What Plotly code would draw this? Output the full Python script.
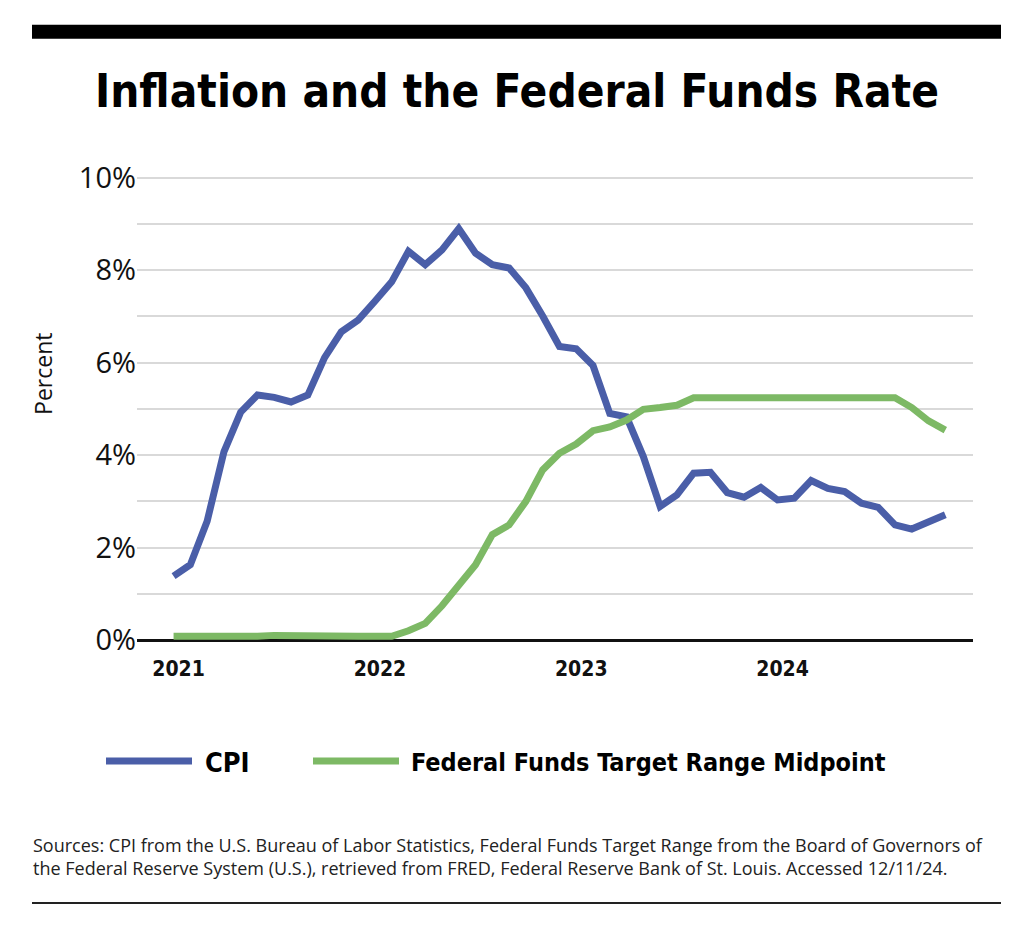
import plotly.graph_objects as go
import pandas as pd

# ---- data ----
months = pd.date_range("2021-01-01", "2024-11-01", freq="MS").strftime("%Y-%m").tolist()

cpi = [1.38, 1.63, 2.57, 4.07, 4.93, 5.30, 5.25, 5.15, 5.30, 6.11, 6.67, 6.92,
       7.33, 7.75, 8.41, 8.12, 8.44, 8.90, 8.37, 8.12, 8.05, 7.62, 7.01, 6.35,
       6.30, 5.94, 4.90, 4.83, 3.97, 2.89, 3.14, 3.61, 3.63, 3.19, 3.09, 3.30,
       3.03, 3.07, 3.45, 3.28, 3.21, 2.96, 2.87, 2.49, 2.40, 2.54, 2.71]

fed_funds = [0.08, 0.08, 0.07, 0.07, 0.06, 0.08, 0.10, 0.09, 0.08, 0.08, 0.08, 0.08,
             0.08, 0.08, 0.20, 0.36, 0.74, 1.17, 1.63, 2.28, 2.49, 3.00, 3.68, 4.04,
             4.24, 4.53, 4.61, 4.76, 4.99, 5.03, 5.08, 5.24, 5.24, 5.24, 5.24, 5.24,
             5.24, 5.24, 5.24, 5.24, 5.24, 5.24, 5.24, 5.24, 5.03, 4.74, 4.54]

year_labels = ["2021", "2022", "2023", "2024"]
y_ticks = list(range(0, 11))
y_ticktext = [f"{v}%" if v % 2 == 0 else "" for v in y_ticks]

BLUE = "#4a5ea8"
GREEN = "#7db965"
NARROW = "DejaVu Sans Condensed, Liberation Sans Narrow, sans-serif"
REG = "Open Sans, Liberation Sans, sans-serif"

# page body has an 8px margin; figure sized to fit the 1024x935 window
OFF = 8
W, H = 1024 - 2 * OFF, 935 - OFF
YMAX = 10.04  # a hair above 10% so the top gridline is drawn
# plot area in reference-window pixels (0% at 640, 10% at 178)
RL, RR, RB = 137, 973, 640
RT = RB - (RB - 178) * YMAX / 10
L, R, T, B = RL - OFF, RR - OFF, RT - OFF, RB - OFF


def px(x):
    return (x - RL) / (RR - RL)


def py(y):
    return (RB - y) / (RB - RT)


idx = list(range(len(months)))

fig = go.Figure()
fig.add_trace(go.Scatter(x=idx, y=cpi, mode="lines", name="CPI",
                         line=dict(color=BLUE, width=7), customdata=months,
                         hovertemplate="%{customdata}: %{y:.1f}%<extra>CPI</extra>"))
fig.add_trace(go.Scatter(x=idx, y=fed_funds, mode="lines",
                         name="Federal Funds Target Range Midpoint",
                         line=dict(color=GREEN, width=7), customdata=months,
                         hovertemplate="%{customdata}: %{y:.2f}%<extra>Fed Funds</extra>"))

year_pos = [months.index(f"{y}-01") + 0.3 for y in year_labels]

fig.update_layout(
    width=W, height=H,
    margin=dict(l=L, r=W - R, t=T, b=H - B, pad=0),
    paper_bgcolor="white", plot_bgcolor="white",
    showlegend=False,
    xaxis=dict(range=[-2.18, 47.65], showgrid=False, zeroline=False,
               tickvals=year_pos, ticktext=year_labels,
               ticks="outside", ticklen=10, tickcolor="rgba(0,0,0,0)",
               tickfont=dict(family=NARROW, size=21, color="#111", weight="bold"),
               showline=False, fixedrange=True),
    yaxis=dict(range=[0, YMAX], tickvals=y_ticks, ticktext=y_ticktext,
               showgrid=True, gridcolor="#d9d9d9", gridwidth=2,
               zeroline=True, zerolinecolor="#111", zerolinewidth=2.5,
               tickfont=dict(family=REG, size=29, color="#111"),
               ticks="", showline=False, fixedrange=True),
)

shapes = [
    # top black bar
    dict(type="rect", xref="paper", yref="paper", x0=px(32), x1=px(1001),
         y0=py(39), y1=py(25), fillcolor="black", line=dict(width=0), layer="above"),
    # bottom rule
    dict(type="line", xref="paper", yref="paper", x0=px(32), x1=px(1001),
         y0=py(903), y1=py(903), line=dict(color="#222", width=2)),
    # legend swatches
    dict(type="line", xref="paper", yref="paper", x0=px(106), x1=px(192),
         y0=py(761), y1=py(761), line=dict(color=BLUE, width=7)),
    dict(type="line", xref="paper", yref="paper", x0=px(313), x1=px(399),
         y0=py(761), y1=py(761), line=dict(color=GREEN, width=7)),
]
fig.update_layout(shapes=shapes)

annotations = [
    dict(text="Inflation and the Federal Funds Rate", x=px(517), y=py(92),
         xref="paper", yref="paper", showarrow=False, xanchor="center", yanchor="middle",
         font=dict(family=NARROW, size=45.5, color="black", weight="bold")),
    dict(text="Percent", x=px(43), y=py(374), xref="paper", yref="paper",
         showarrow=False, textangle=-90, xanchor="center", yanchor="middle",
         font=dict(family=REG, size=23, color="#111")),
    dict(text="CPI", x=px(203), y=py(762), xref="paper", yref="paper",
         showarrow=False, xanchor="left", yanchor="middle",
         font=dict(family=NARROW, size=27, color="black", weight="bold")),
    dict(text="Federal Funds Target Range Midpoint", x=px(409), y=py(762),
         xref="paper", yref="paper", showarrow=False, xanchor="left", yanchor="middle",
         font=dict(family=NARROW, size=25, color="black", weight="bold")),
    dict(text="Sources: CPI from the U.S. Bureau of Labor Statistics, Federal Funds Target Range from the Board of Governors of<br>"
              "the Federal Reserve System (U.S.), retrieved from FRED, Federal Reserve Bank of St. Louis. Accessed 12/11/24.",
         x=px(31), y=py(856), xref="paper", yref="paper", showarrow=False,
         xanchor="left", yanchor="middle", align="left",
         font=dict(family=REG, size=18, color="#222")),
]
fig.update_layout(annotations=annotations)

fig.write_html("out.html")
